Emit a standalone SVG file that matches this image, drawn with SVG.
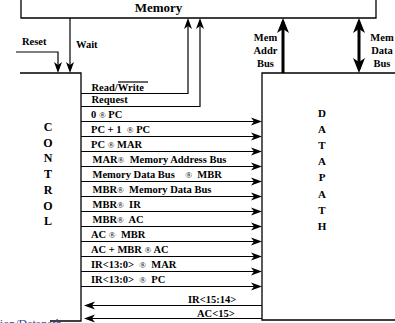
<svg xmlns="http://www.w3.org/2000/svg" width="395" height="323" viewBox="0 0 395 323">
<style>
text{font-family:"Liberation Serif","Times New Roman",serif;font-weight:bold;fill:#000}
.box{fill:none;stroke:#000;stroke-width:1.3}
.w{fill:none;stroke:#000;stroke-width:1.2}
.t{fill:none;stroke:#000;stroke-width:3}
.lb{font-size:10.5px}
.big{font-size:12px}
.dp{font-size:11px}
.r{font-size:9px;font-weight:normal}
.link{font-family:"Liberation Serif",serif;font-weight:normal;font-size:12px;fill:#2a48a8}
</style>
<defs>
<marker id="ah" markerUnits="userSpaceOnUse" markerWidth="12" markerHeight="9" refX="8" refY="4.5" orient="auto" overflow="visible">
<path d="M0,0.5 L11,4.5 L0,8.5 L3,4.5 Z" fill="#000"/>
</marker>
<marker id="bh" markerUnits="userSpaceOnUse" markerWidth="16" markerHeight="13" refX="11" refY="6.5" orient="auto-start-reverse" overflow="visible">
<path d="M0,0.5 L15,6.5 L0,12.5 L4,6.5 Z" fill="#000"/>
</marker>
</defs>
<rect width="395" height="323" fill="#fff"/>

<g id="memory">
<path class="box" d="M21,-2 V18 H376 V-2"/>
<text x="158.5" y="11.5" text-anchor="middle" font-size="13">Memory</text>
</g>

<g id="control">
<path class="box" d="M20,73 H81 V321 H50"/>
<g class="big" text-anchor="middle">
<text x="48" y="131">C</text>
<text x="48" y="146.7">O</text>
<text x="48" y="162.4">N</text>
<text x="48" y="178.1">T</text>
<text x="48" y="193.8">R</text>
<text x="48" y="209.5">O</text>
<text x="48" y="225.2">L</text>
</g>
</g>

<g id="datapath">
<path class="box" d="M400,73 H262 V320 H400"/>
<g class="dp" text-anchor="middle">
<text x="322" y="116.5">D</text>
<text x="322" y="132.7">A</text>
<text x="322" y="148.9">T</text>
<text x="322" y="165.1">A</text>
<text x="322" y="181.3">P</text>
<text x="322" y="197.5">A</text>
<text x="322" y="213.7">T</text>
<text x="322" y="229.9">H</text>
</g>
</g>

<g id="connectors">
<path class="w" d="M16,52 H58 V70" marker-end="url(#ah)"/>
<path class="w" d="M70,18 V70" marker-end="url(#ah)"/>
<path class="w" d="M81,93.5 H188 V21" marker-end="url(#ah)"/>
<path class="w" d="M81,106.5 H200 V21" marker-end="url(#ah)"/>
<path class="t" d="M283,73 V22" marker-end="url(#bh)"/>
<path class="t" d="M359,22 V69" marker-start="url(#bh)" marker-end="url(#bh)"/>
<g marker-end="url(#ah)">
<path class="w" d="M81,121.5 H259"/>
<path class="w" d="M81,136.5 H259"/>
<path class="w" d="M81,151.5 H259"/>
<path class="w" d="M81,166.5 H259"/>
<path class="w" d="M81,181.5 H259"/>
<path class="w" d="M81,196.5 H259"/>
<path class="w" d="M81,211.5 H259"/>
<path class="w" d="M81,226.5 H259"/>
<path class="w" d="M81,241.5 H259"/>
<path class="w" d="M81,256.5 H259"/>
<path class="w" d="M81,271.5 H259"/>
<path class="w" d="M81,286.5 H259"/>
<path class="w" d="M262,305.5 H87"/>
<path class="w" d="M262,318.5 H87"/>
</g>
<line class="w" x1="118" y1="82" x2="148" y2="82"/>
</g>

<g id="labels" class="lb">
<text x="22" y="45">Reset</text>
<text x="76" y="48">Wait</text>
<g text-anchor="middle">
<text x="265.5" y="40.5">Mem</text>
<text x="265.5" y="54">Addr</text>
<text x="265.5" y="67">Bus</text>
<text x="382" y="40.5">Mem</text>
<text x="382" y="54">Data</text>
<text x="382" y="67">Bus</text>
</g>
<text x="91.5" y="90.5">Read/Write</text>
<text x="91.5" y="103">Request</text>
<text x="91" y="117.5" xml:space="preserve">0 <tspan class="r">®</tspan> PC</text>
<text x="91" y="132.5" xml:space="preserve">PC + 1  <tspan class="r">®</tspan> PC</text>
<text x="91" y="147.5" xml:space="preserve">PC <tspan class="r">®</tspan> MAR</text>
<text x="92.5" y="162.5" xml:space="preserve">MAR<tspan class="r">®</tspan>  Memory Address Bus</text>
<text x="92.5" y="177.5" xml:space="preserve">Memory Data Bus    <tspan class="r">®</tspan>  MBR</text>
<text x="92.5" y="192.5" xml:space="preserve">MBR<tspan class="r">®</tspan>  Memory Data Bus</text>
<text x="92.5" y="207.5" xml:space="preserve">MBR<tspan class="r">®</tspan>  IR</text>
<text x="92.5" y="222.5" xml:space="preserve">MBR<tspan class="r">®</tspan>  AC</text>
<text x="91" y="237.5" xml:space="preserve">AC <tspan class="r">®</tspan>  MBR</text>
<text x="91" y="252.5" xml:space="preserve">AC + MBR <tspan class="r">®</tspan> AC</text>
<text x="91" y="267.5" xml:space="preserve">IR&lt;13:0&gt;  <tspan class="r">®</tspan>  MAR</text>
<text x="91" y="282.5" xml:space="preserve">IR&lt;13:0&gt;  <tspan class="r">®</tspan>  PC</text>
<text x="188" y="302.5">IR&lt;15:14&gt;</text>
<text x="197" y="316.5">AC&lt;15&gt;</text>
</g>
<text class="link" x="-3.5" y="328">tion/Datapath</text>
</svg>
